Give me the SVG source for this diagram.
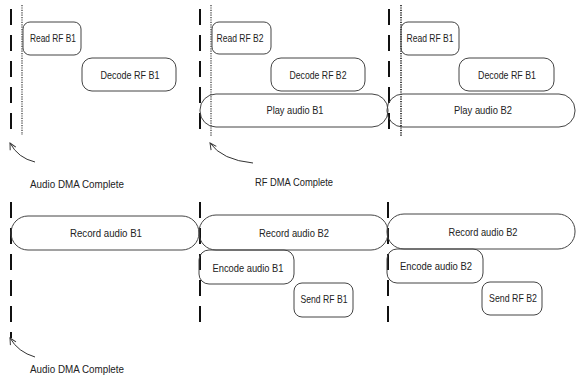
<svg xmlns="http://www.w3.org/2000/svg" width="576" height="376" viewBox="0 0 576 376">
<defs>
<style>
.box{fill:none;stroke:#444;stroke-width:1}
.t{font-family:"Liberation Sans",Arial,sans-serif;font-size:11px;fill:#222;text-anchor:middle;dominant-baseline:central}
.lbl{font-family:"Liberation Sans",Arial,sans-serif;font-size:11px;fill:#222;dominant-baseline:central}
.dash{stroke:#111;stroke-width:2;stroke-dasharray:16 10;fill:none}
.dot{stroke:#333;stroke-width:1.2;stroke-dasharray:1.2 1.2;fill:none}
.arr{stroke:#333;stroke-width:1;fill:none}
</style>
<marker id="ah" viewBox="0 0 10 10" refX="9" refY="5" markerWidth="8" markerHeight="8" orient="auto" markerUnits="userSpaceOnUse">
<path d="M1,1 L9,5 L1,9" fill="none" stroke="#333" stroke-width="1.2"/>
</marker>
</defs>
<rect width="576" height="376" fill="#fff"/>

<g id="timelines">
<line class="dash" x1="11" y1="9" x2="11" y2="137"/>
<line class="dash" x1="200" y1="9" x2="200" y2="137"/>
<line class="dash" x1="389" y1="9" x2="389" y2="137"/>
<line class="dot" x1="22" y1="5" x2="22" y2="135"/>
<line class="dot" x1="211" y1="5" x2="211" y2="137"/>
<line class="dot" x1="401" y1="5" x2="401" y2="136" style="stroke-width:1.8"/>
<line class="dash" x1="11" y1="202" x2="11" y2="338"/>
<line class="dash" x1="200" y1="202" x2="200" y2="332"/>
<line class="dash" x1="388" y1="202" x2="388" y2="332"/>
</g>

<g id="n-read-rf-b1"><rect class="box" x="23" y="22" width="58" height="33" rx="7"/><text class="t" x="53" y="38" textLength="46" lengthAdjust="spacingAndGlyphs">Read RF B1</text></g>
<g id="n-decode-rf-b1"><rect class="box" x="82" y="58" width="94" height="33" rx="10"/><text class="t" x="130" y="75" textLength="59" lengthAdjust="spacingAndGlyphs">Decode RF B1</text></g>

<g id="n-play-audio-b1"><rect class="box" x="200" y="94" width="188" height="33" rx="16"/><text class="t" x="295" y="110" textLength="57" lengthAdjust="spacingAndGlyphs">Play audio B1</text></g>
<g id="n-read-rf-b2"><rect class="box" x="212" y="22" width="59" height="32" rx="7"/><text class="t" x="240" y="38" textLength="47" lengthAdjust="spacingAndGlyphs">Read RF B2</text></g>
<g id="n-decode-rf-b2"><rect class="box" x="271" y="58" width="94" height="33" rx="10"/><text class="t" x="318" y="75" textLength="57" lengthAdjust="spacingAndGlyphs">Decode RF B2</text></g>

<g id="n-play-audio-b2"><rect class="box" x="387" y="94" width="188" height="33" rx="16"/><text class="t" x="483" y="110" textLength="58" lengthAdjust="spacingAndGlyphs">Play audio B2</text></g>
<g id="n-read-rf-b1-2"><rect class="box" x="401" y="22" width="58" height="33" rx="7"/><text class="t" x="430" y="38" textLength="47" lengthAdjust="spacingAndGlyphs">Read RF B1</text></g>
<g id="n-decode-rf-b1-2"><rect class="box" x="459" y="58" width="95" height="33" rx="10"/><text class="t" x="507" y="75" textLength="58" lengthAdjust="spacingAndGlyphs">Decode RF B1</text></g>

<g id="n-record-audio-b1"><rect class="box" x="11" y="216" width="188" height="34" rx="17"/><text class="t" x="106" y="233" textLength="72" lengthAdjust="spacingAndGlyphs">Record audio B1</text></g>
<g id="n-record-audio-b2"><rect class="box" x="199" y="215" width="189" height="35" rx="17"/><text class="t" x="294" y="233" textLength="70" lengthAdjust="spacingAndGlyphs">Record audio B2</text></g>
<g id="n-encode-audio-b1"><rect class="box" x="199" y="250" width="95" height="34" rx="10"/><text class="t" x="248" y="268" textLength="71" lengthAdjust="spacingAndGlyphs">Encode audio B1</text></g>
<g id="n-send-rf-b1"><rect class="box" x="294" y="283" width="59" height="34" rx="8"/><text class="t" x="324" y="299" textLength="47" lengthAdjust="spacingAndGlyphs">Send RF B1</text></g>

<g id="n-record-audio-b2-2"><rect class="box" x="387" y="214" width="188" height="35" rx="17"/><text class="t" x="483" y="232" textLength="69" lengthAdjust="spacingAndGlyphs">Record audio B2</text></g>
<g id="n-encode-audio-b2"><rect class="box" x="387" y="249" width="96" height="34" rx="10"/><text class="t" x="436" y="266" textLength="72" lengthAdjust="spacingAndGlyphs">Encode audio B2</text></g>
<g id="n-send-rf-b2"><rect class="box" x="482" y="282" width="60" height="33" rx="8"/><text class="t" x="513" y="298" textLength="48" lengthAdjust="spacingAndGlyphs">Send RF B2</text></g>

<g id="connectors">
<path class="arr" d="M35,162 Q18,158 10,143" marker-end="url(#ah)"/>
<path class="arr" d="M253,163 Q222,160 210,143" marker-end="url(#ah)"/>
<path class="arr" d="M35,357 Q18,352 10,338" marker-end="url(#ah)"/>
</g>

<g id="labels">
<text class="lbl" x="30" y="184" textLength="94" lengthAdjust="spacingAndGlyphs">Audio DMA Complete</text>
<text class="lbl" x="255" y="182" textLength="78" lengthAdjust="spacingAndGlyphs">RF DMA Complete</text>
<text class="lbl" x="30" y="369" textLength="94" lengthAdjust="spacingAndGlyphs">Audio DMA Complete</text>
</g>
</svg>
